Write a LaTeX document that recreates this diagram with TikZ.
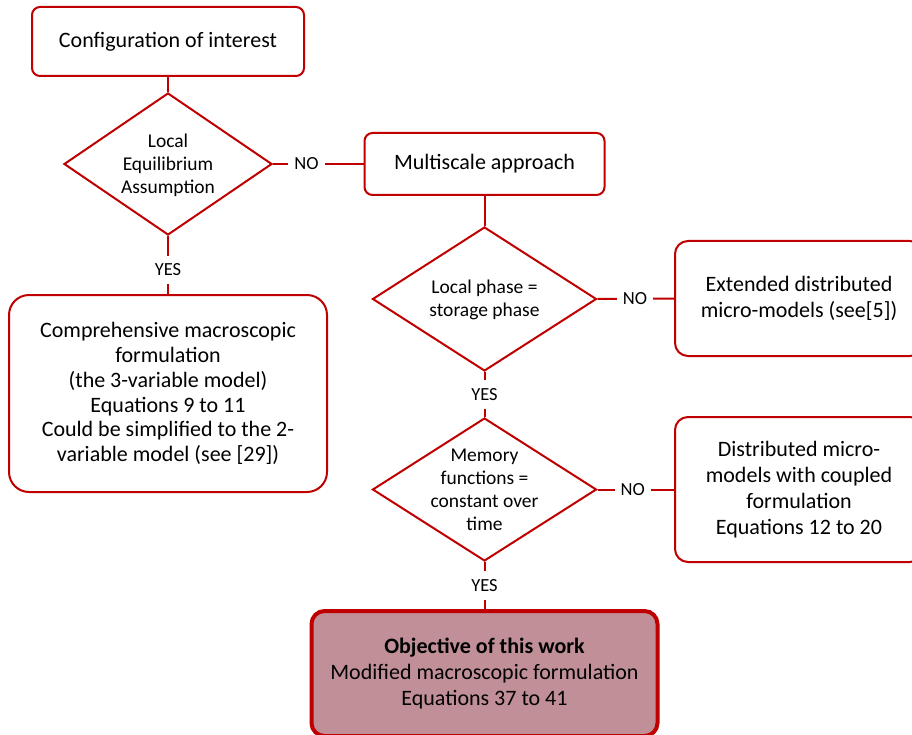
\documentclass[tikz,border=0pt]{standalone}
\usepackage{fontspec}
\setmainfont{Carlito}
\usetikzlibrary{shapes.geometric}
\definecolor{dred}{RGB}{192,0,0}
\definecolor{objfill}{RGB}{192,143,152}
\begin{document}
\begin{tikzpicture}[x=1pt,y=-1pt,
  box/.style={draw=dred, line width=2pt, fill=white, inner sep=0pt, align=center,
    font=\fontsize{22}{24.8}\selectfont},
  wide/.style={font=\fontsize{22}{26.2}\selectfont},
  dia/.style={draw=dred, line width=2pt, fill=white, shape=diamond, inner sep=0pt},
  dtext/.style={align=center, font=\fontsize{19.5}{23}\selectfont},
  conn/.style={draw=dred, line width=2pt},
  lbl/.style={fill=white, inner xsep=6pt, inner ysep=8pt, font=\fontsize{18.5}{20}\selectfont, text=black}]
\useasboundingbox (0,0) rectangle (912,735);
\clip (0,0) rectangle (912,735);

\node[box, rounded corners=8pt, minimum width=272pt, minimum height=69pt] (conf) at (168,41.5) {\raisebox{-2pt}{Configuration of interest}};
\node[dia, minimum width=208pt, minimum height=142pt,
  label={[dtext, yshift=-1pt]center:Local\\Equilibrium\\Assumption}] (d1) at (168,164) {};
\node[box, rounded corners=20pt, minimum width=318pt, minimum height=197pt] (comp) at (168,393.5)
  {Comprehensive macroscopic\\formulation\\(the 3-variable model)\\Equations 9 to 11\\Could be simplified to the 2-\\variable model (see [29])};
\node[box, rounded corners=8pt, minimum width=240pt, minimum height=62pt] (ms) at (484.5,164) {\raisebox{-2pt}{Multiscale approach}};
\node[dia, minimum width=224pt, minimum height=144pt,
  label={[dtext, yshift=-1pt]center:Local phase =\\storage phase}] (d2) at (484.5,299) {};
\node[box, wide, rounded corners=13pt, minimum width=248pt, minimum height=115pt] (ext) at (799,298.5)
  {Extended distributed\\micro-models (see[5])};
\node[dia, minimum width=224pt, minimum height=143pt,
  label={[dtext]center:Memory\\functions =\\constant over\\time}] (d3) at (484.5,489.5) {};
\node[box, wide, rounded corners=13pt, minimum width=248pt, minimum height=145pt] (dist) at (799,489.5)
  {Distributed micro-\\models with coupled\\formulation\\Equations 12 to 20};
\node[box, wide, fill=objfill, line width=4pt, rounded corners=13pt, minimum width=346pt, minimum height=125pt] (obj) at (484.5,673.5)
  {\textbf{Objective of this work}\\Modified macroscopic formulation\\Equations 37 to 41};

\draw[conn] (conf.south) -- (d1.north);
\draw[conn] (d1.south) -- node[lbl, pos=0.58] {YES} (comp.north);
\draw[conn] (d1.east) -- node[lbl, pos=0.37] {NO} (ms.west);
\draw[conn] (ms.south) -- (d2.north);
\draw[conn] (d2.east) -- node[lbl, pos=0.49] {NO} (ext.west);
\draw[conn] (d2.south) -- node[lbl] {YES} (d3.north);
\draw[conn] (d3.east) -- node[lbl, pos=0.46] {NO} (dist.west);
\draw[conn] (d3.south) -- node[lbl] {YES} (obj.north);
\end{tikzpicture}
\end{document}
